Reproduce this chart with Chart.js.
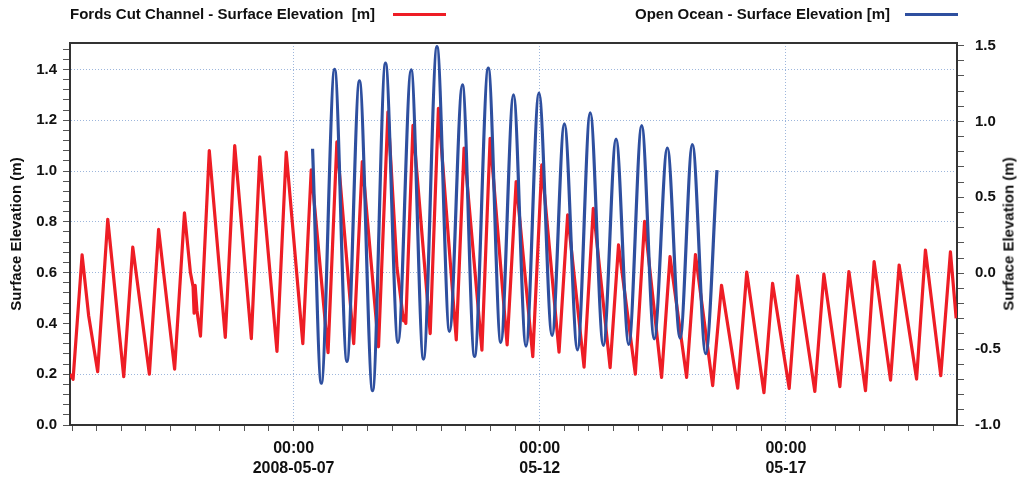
<!DOCTYPE html>
<html>

<head>
  <title>Surface Elevation</title>
  <script src="https://cdn.jsdelivr.net/npm/chart.js"></script>
  <style>
    body { margin: 0; background: #fff; }
    #wrap { position: relative; width: 1023px; height: 477px; font-family: "Liberation Sans", Arial, sans-serif; }
    .legend { position: absolute; top: 5px; font-weight: bold; font-size: 15px; line-height: 18px; color: #111; white-space: pre; }
    .swatch { position: absolute; top: 13px; width: 53px; height: 3px; }
    #rightTitle { position: absolute; left: 1008px; top: 234px; font-weight: bold; font-size: 15px; color: #111;
      white-space: nowrap; transform: translate(-50%, -50%) rotate(-90deg); }
  </style>
</head>

<body>
  <div id="wrap">
    <canvas id="tideChart" width="1023" height="477"></canvas>
    <div class="legend" style="left:70px">Fords Cut Channel - Surface Elevation  [m]</div>
    <div class="swatch" style="left:393px; background:#ee1d25"></div>
    <div class="legend" style="left:635px">Open Ocean - Surface Elevation [m]</div>
    <div class="swatch" style="left:905px; background:#2e4f9f"></div>
    <div id="rightTitle">Surface Elevation (m)</div>
  </div>

  <script>
    // Fords Cut Channel (left axis), peaks/troughs
    const fordsTimes = [
      '2008-05-02 11:00', '2008-05-02 12:30', '2008-05-02 16:54', '2008-05-02 20:06', '2008-05-03 00:30',
      '2008-05-03 05:24', '2008-05-03 13:12', '2008-05-03 17:36', '2008-05-04 01:42', '2008-05-04 06:12',
      '2008-05-04 14:00', '2008-05-04 18:48', '2008-05-04 21:42', '2008-05-04 23:00', '2008-05-04 23:30',
      '2008-05-05 00:00', '2008-05-05 00:54', '2008-05-05 02:36', '2008-05-05 06:54', '2008-05-05 14:42',
      '2008-05-05 19:18', '2008-05-06 03:24', '2008-05-06 07:30', '2008-05-06 15:54', '2008-05-06 20:24',
      '2008-05-07 04:30', '2008-05-07 08:36', '2008-05-07 16:48', '2008-05-07 21:06', '2008-05-08 05:18',
      '2008-05-08 09:30', '2008-05-08 17:24', '2008-05-08 22:00', '2008-05-09 02:24', '2008-05-09 05:36',
      '2008-05-09 06:00', '2008-05-09 06:42', '2008-05-09 10:12', '2008-05-09 18:36', '2008-05-09 22:36',
      '2008-05-10 07:18', '2008-05-10 11:06', '2008-05-10 19:48', '2008-05-10 23:48', '2008-05-11 08:06',
      '2008-05-11 12:30', '2008-05-11 20:36', '2008-05-12 01:00', '2008-05-12 09:24', '2008-05-12 13:36',
      '2008-05-12 21:36', '2008-05-13 02:06', '2008-05-13 10:18', '2008-05-13 14:24', '2008-05-13 22:36',
      '2008-05-14 03:06', '2008-05-14 11:24', '2008-05-14 15:30', '2008-05-14 23:36', '2008-05-15 03:54',
      '2008-05-15 12:18', '2008-05-15 16:36', '2008-05-16 00:30', '2008-05-16 04:54', '2008-05-16 13:18',
      '2008-05-16 17:30', '2008-05-17 01:36', '2008-05-17 05:42', '2008-05-17 14:06', '2008-05-17 18:30',
      '2008-05-18 02:18', '2008-05-18 06:42', '2008-05-18 14:48', '2008-05-18 19:00', '2008-05-19 03:00',
      '2008-05-19 07:12', '2008-05-19 15:42', '2008-05-19 20:00', '2008-05-20 03:30', '2008-05-20 08:12',
      '2008-05-20 11:00'
    ];
    const fordsLevels = [
      0.20, 0.18, 0.67, 0.43, 0.21,
      0.81, 0.19, 0.70, 0.20, 0.77,
      0.22, 0.835, 0.60, 0.545, 0.44,
      0.55, 0.45, 0.35, 1.08, 0.345,
      1.10, 0.34, 1.056, 0.29, 1.074,
      0.32, 1.005, 0.285, 1.115, 0.32,
      1.037, 0.308, 1.233, 0.62, 0.41,
      0.43, 0.40, 1.18, 0.36, 1.247,
      0.335, 1.09, 0.295, 1.129, 0.315,
      0.958, 0.269, 1.024, 0.287, 0.827,
      0.228, 0.853, 0.226, 0.709, 0.20,
      0.802, 0.187, 0.663, 0.187, 0.671,
      0.155, 0.55, 0.145, 0.602, 0.127,
      0.558, 0.144, 0.587, 0.132, 0.594,
      0.151, 0.604, 0.135, 0.643, 0.177,
      0.63, 0.181, 0.689, 0.194, 0.682,
      0.42
    ];

    // Open Ocean (right axis)
    const oceanTimes = [
      '2008-05-07 09:15', '2008-05-07 13:30', '2008-05-07 20:00', '2008-05-08 02:00', '2008-05-08 08:06',
      '2008-05-08 14:30', '2008-05-08 20:48', '2008-05-09 02:54', '2008-05-09 09:18', '2008-05-09 15:18',
      '2008-05-09 21:54', '2008-05-10 04:00', '2008-05-10 10:18', '2008-05-10 16:12', '2008-05-10 22:54',
      '2008-05-11 05:00', '2008-05-11 11:12', '2008-05-11 17:18', '2008-05-11 23:36', '2008-05-12 06:00',
      '2008-05-12 12:00', '2008-05-12 18:24', '2008-05-13 00:36', '2008-05-13 07:00', '2008-05-13 13:12',
      '2008-05-13 19:24', '2008-05-14 01:42', '2008-05-14 07:48', '2008-05-14 14:12', '2008-05-14 20:24',
      '2008-05-15 02:24', '2008-05-15 08:54', '2008-05-15 14:24'
    ];
    const oceanLevels = [
      0.82, -0.725, 1.344, -0.581, 1.267,
      -0.774, 1.384, -0.456, 1.34, -0.566,
      1.493, -0.383, 1.241, -0.548, 1.351,
      -0.456, 1.175, -0.48, 1.187, -0.41,
      0.984, -0.505, 1.057, -0.476, 0.884,
      -0.469, 0.972, -0.432, 0.825, -0.427,
      0.847, -0.53, 0.68
    ];

    // x tick labels (shown at 00:00 of these days)
    const labelDays = ['2008-05-07', '2008-05-12', '2008-05-17'];
    const labelTexts = ['2008-05-07', '05-12', '05-17'];

    const base = Date.UTC(2008, 4, 7);
    function toHours(s) {
      const t = Date.UTC(+s.slice(0, 4), +s.slice(5, 7) - 1, +s.slice(8, 10), +s.slice(11, 13), +s.slice(14, 16));
      return (t - base) / 3600000;
    }
    const labelHours = labelDays.map(d => toHours(d + ' 00:00'));

    const fordsData = fordsTimes.map((t, i) => ({ x: toHours(t), y: fordsLevels[i] }));
    const oceanData = oceanTimes.map((t, i) => ({ x: toHours(t), y: oceanLevels[i] }));

    const tickFont = { family: '"Liberation Sans", Arial, sans-serif', size: 15, weight: 'bold' };
    const gridBlue = '#9db6dc';

    function isMultiple(v, step) {
      return Math.abs(v / step - Math.round(v / step)) < 1e-6;
    }

    // top edge of the plot frame
    const framePlugin = {
      id: 'frame',
      afterDraw(chart) {
        const { ctx, chartArea } = chart;
        ctx.save();
        ctx.strokeStyle = '#333';
        ctx.lineWidth = 2;
        ctx.beginPath();
        ctx.moveTo(chartArea.left, chartArea.top);
        ctx.lineTo(chartArea.right, chartArea.top);
        ctx.stroke();
        ctx.restore();
      }
    };

    const ctx = document.getElementById('tideChart').getContext('2d');
    const tideChart = new Chart(ctx, {
      type: 'line',
      data: {
        datasets: [
          {
            label: 'Open Ocean - Surface Elevation [m]',
            data: oceanData,
            yAxisID: 'yRight',
            borderColor: '#2e4f9f',
            borderWidth: 3.2,
            borderJoinStyle: 'round',
            pointRadius: 0,
            cubicInterpolationMode: 'monotone',
            fill: false,
            order: 0,
          },
          {
            label: 'Fords Cut Channel - Surface Elevation  [m]',
            data: fordsData,
            yAxisID: 'yLeft',
            borderColor: '#ee1d25',
            borderWidth: 3.2,
            borderJoinStyle: 'round',
            pointRadius: 0,
            tension: 0,
            fill: false,
            order: 1,
          },
        ],
      },
      options: {
        responsive: false,
        animation: false,
        layout: { padding: { top: 43, left: 0, right: 0, bottom: 0 } },
        plugins: {
          legend: { display: false },
          tooltip: { enabled: false },
        },
        scales: {
          x: {
            type: 'linear',
            min: -109,
            max: 323.4,
            afterFit: (scale) => { scale.height = 52; },
            border: { color: '#333', width: 2, dash: [1, 2] },
            grid: {
              color: (c) => labelHours.some(h => Math.abs(h - c.tick.value) < 1e-6) ? gridBlue : 'transparent',
              tickColor: '#555',
              tickLength: 6,
              drawOnChartArea: true,
            },
            ticks: {
              stepSize: 12,
              includeBounds: false,
              autoSkip: false,
              maxRotation: 0,
              padding: 8,
              color: '#111',
              font: { ...tickFont, size: 16, lineHeight: 1.25 },
              callback: (v) => {
                const i = labelHours.findIndex(h => Math.abs(h - v) < 1e-6);
                return i >= 0 ? ['00:00', labelTexts[i]] : '';
              },
            },
          },
          yLeft: {
            type: 'linear',
            position: 'left',
            min: 0,
            max: 1.504,
            afterFit: (scale) => { scale.width = 70; },
            border: { color: '#333', width: 2, dash: [1, 2] },
            title: {
              display: true,
              text: 'Surface Elevation (m)',
              color: '#111',
              font: tickFont,
              padding: { top: 8, bottom: 0 },
            },
            grid: {
              color: (c) => {
                const v = c.tick.value;
                if (!isMultiple(v, 0.2) || v < 0.01 || Math.abs(v - 0.4) < 1e-6) return 'transparent';
                return gridBlue;
              },
              tickColor: '#555',
              tickLength: 7,
            },
            ticks: {
              stepSize: 0.04,
              includeBounds: false,
              autoSkip: false,
              padding: 6,
              color: '#111',
              font: tickFont,
              callback: (v) => isMultiple(v, 0.2) ? v.toFixed(1) : '',
            },
          },
          yRight: {
            type: 'linear',
            position: 'right',
            min: -1,
            max: 1.517,
            afterFit: (scale) => { scale.width = 66; },
            border: { color: '#333', width: 2 },
            grid: {
              drawOnChartArea: false,
              tickColor: '#555',
              tickLength: 7,
            },
            ticks: {
              stepSize: 0.1,
              includeBounds: false,
              autoSkip: false,
              padding: 11,
              color: '#111',
              font: tickFont,
              callback: (v) => isMultiple(v, 0.5) ? v.toFixed(1) : '',
            },
          },
        },
      },
      plugins: [framePlugin],
    });
  </script>
</body>

</html>
